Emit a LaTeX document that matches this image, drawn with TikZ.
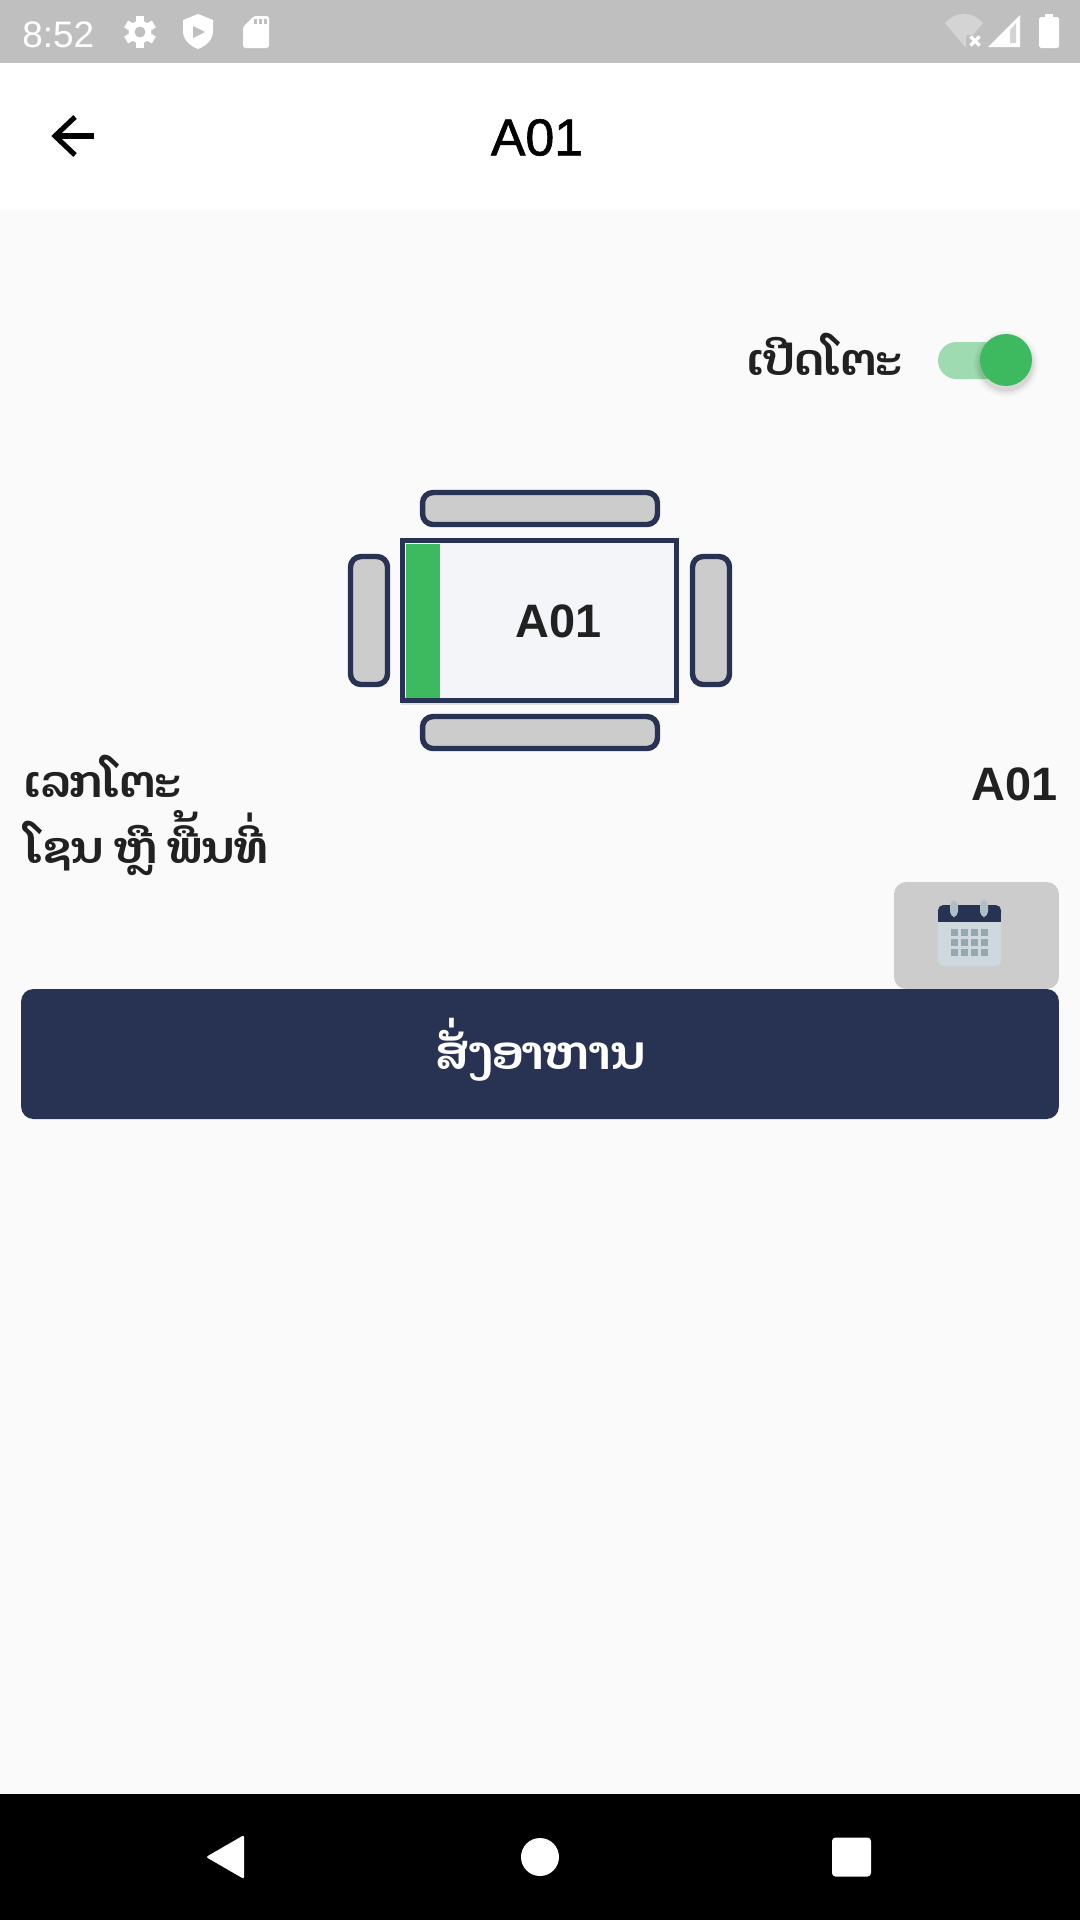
\documentclass[tikz,border=0pt]{standalone}
\usepackage{fontspec}
\setmainfont{Liberation Sans}
\newfontfamily\laofont[Script=Lao]{Dhyana}
\newfontfamily\medfont[FakeBold=1.2]{Liberation Sans}
\definecolor{navy}{HTML}{283252}
\definecolor{inkc}{HTML}{212121}
\definecolor{greenc}{HTML}{3DBA60}
\definecolor{trackc}{HTML}{9FDBB0}
\definecolor{barc}{HTML}{BFBFBF}
\definecolor{pagec}{HTML}{FAFAFA}
\definecolor{seatc}{HTML}{CCCCCC}
\definecolor{topc}{HTML}{F4F5F8}
\definecolor{wific}{HTML}{D4D4D4}
\definecolor{calbody}{HTML}{CFD8DC}
\definecolor{calring}{HTML}{B0BEC5}
\definecolor{calcell}{HTML}{93A8B0}
\tikzset{
  seatH/.style    = {rectangle, draw=navy, fill=seatc, line width=3.1pt, rounded corners=6pt,
                     minimum width=4.7cm, minimum height=0.64cm, inner sep=0pt},
  seatV/.style    = {rectangle, draw=navy, fill=seatc, line width=3.1pt, rounded corners=6pt,
                     minimum width=0.74cm, minimum height=2.56cm, inner sep=0pt},
  tabletop/.style = {rectangle, draw=navy, fill=topc, line width=3.1pt,
                     minimum width=5.48cm, minimum height=3.2cm, inner sep=0pt},
  laolbl/.style   = {anchor=base west, inner sep=0pt, text=inkc,
                     font=\laofont\bfseries\fontsize{25}{30}\selectfont},
  numlbl/.style   = {inner sep=0pt, text=inkc, font=\bfseries\fontsize{26.7}{32}\selectfont},
  btn/.style      = {rectangle, rounded corners=7pt, inner sep=0pt},
  icon/.style     = {fill=white, draw=none},
}

\begin{document}
\begin{tikzpicture}[x=0.02cm, y=-0.02cm]
  \useasboundingbox (0,0) rectangle (1080,1920);
  % screen bands
  \fill[pagec] (0,0) rectangle (1080,1794);
  \fill[barc] (0,0) rectangle (1080,63);
  \fill[white] (0,63) rectangle (1080,210);
  \fill[black] (0,1794) rectangle (1080,1920);

  % status bar
  \node[anchor=base west, inner sep=0pt, text=white, font=\fontsize{21}{26}\selectfont] (clock) at (22,47) {8:52};
  \fill[icon] (140,32) circle (11.5);
  \foreach \a in {0,60,...,300} {
    \fill[icon, rotate around={\a:(140,32)}] (136,16) rectangle (144,24);
  }
  \fill[barc] (140,32) circle (5.5);
  \fill[icon] (198,14) -- (213,20) -- (213,31) .. controls (213,40) and (206,46) .. (198,49)
    .. controls (190,46) and (183,40) .. (183,31) -- (183,20) -- cycle;
  \fill[barc] (193,26) -- (205,32) -- (193,38) -- cycle;
  \fill[icon, rounded corners=1pt] (243,27) -- (254,16) -- (269,16) -- (269,48) -- (243,48) -- cycle;
  \foreach \x in {254,259,264} {
    \fill[barc] (\x,19) rectangle ++(3,5);
  }
  \fill[wific] (965,47) -- (945,23) .. controls (950,17) and (957,14) .. (964,14)
    .. controls (971,14) and (978,17) .. (983,23) -- (973,35) -- (966,35) -- (966,46) -- cycle;
  \draw[white, line width=1.9pt] (970.5,36.5) -- (979.5,45.5) (979.5,36.5) -- (970.5,45.5);
  \fill[white] (988,47) -- (1020,15) -- (1020,47) -- cycle;
  \fill[wific] (1010,43) -- (1010,30) -- (1016,23) -- (1016,43) -- cycle;
  \fill[icon, rounded corners=1pt] (1039,17) rectangle (1059,48);
  \fill[icon] (1045,14) rectangle (1053,18);

  % app bar
  \coordinate (backtail) at (94,136);
  \coordinate (backtip) at (55,136);
  \draw[black, line width=2.9pt] (backtail) -- (backtip);
  \draw[black, line width=2.9pt] (75,117) -- (backtip) -- (75,155);
  \node[inner sep=0pt, text=black, font=\medfont\fontsize{29.5}{34}\selectfont] (title) at (537,137.5) {A01};

  % open switch
  \node[laolbl] (openlbl) at (747,375) {ເປີດໂຕະ};
  \fill[trackc, rounded corners=10.5pt] (938,342) rectangle (1022,379);
  \foreach \r/\o in {33/0.02,31/0.03,29/0.04,27.5/0.05} {
    \fill[black, opacity=\o] (1006,364) circle (\r);
  }
  \node[circle, fill=greenc, minimum size=1.04cm, inner sep=0pt] (thumb) at (1006,360) {};

  % table and seats
  \fill[black, opacity=0.1] (401,690) rectangle (678,705);
  \node[seatH] (seatN) at (540,508.5) {};
  \node[seatH] (seatS) at (540,732.5) {};
  \node[seatV] (seatW) at (369,620.5) {};
  \node[seatV] (seatE) at (711,620.5) {};
  \node[tabletop] (board) at (539.5,620.5) {};
  \fill[greenc] (406,543.5) rectangle (440,697.5);
  \node[numlbl] (boardlbl) at (558.5,621) {A01};

  % info rows
  \node[laolbl] (numkey) at (24,797) {ເລກໂຕະ};
  \node[laolbl] (zonekey) at (25,863) {ໂຊນ ຫຼື ພື້ນທີ່};
  \node[numlbl] (numval) at (1014.5,784.5) {A01};

  % calendar button
  \node[btn, fill=seatc, minimum width=3.3cm, minimum height=2.14cm] (calbtn) at (976.5,935.5) {};
  \fill[calbody, rounded corners=3pt] (938,912) rectangle (1001,966);
  \fill[navy, rounded corners=3pt] (938,905) rectangle (1001,918);
  \fill[navy] (938,912) rectangle (1001,922);
  \foreach \x in {954,984} {
    \fill[calring, rounded corners=3pt] (\x-4,900) rectangle (\x+4,917);
  }
  \foreach \x in {954,964,974,984} {
    \foreach \y in {932,942,952} {
      \fill[calcell] (\x-3.5,\y-3.5) rectangle (\x+3.5,\y+3.5);
    }
  }

  % order button
  \node[btn, fill=navy, minimum width=20.76cm, minimum height=2.6cm] (orderbtn) at (540,1054) {};
  \node[anchor=base, inner sep=0pt, text=white, font=\laofont\bfseries\fontsize{26.5}{30}\selectfont] (orderlbl) at (540,1069) {ສັ່ງອາຫານ};

  % navigation bar
  \fill[icon, rounded corners=1.2pt] (206,1857) -- (244,1835) -- (244,1879) -- cycle;
  \node[circle, fill=white, minimum size=0.76cm, inner sep=0pt] (navhome) at (540,1857) {};
  \node[rectangle, fill=white, rounded corners=2pt, minimum size=0.78cm, inner sep=0pt] (navrecent) at (851.5,1857) {};
\end{tikzpicture}
\end{document}
